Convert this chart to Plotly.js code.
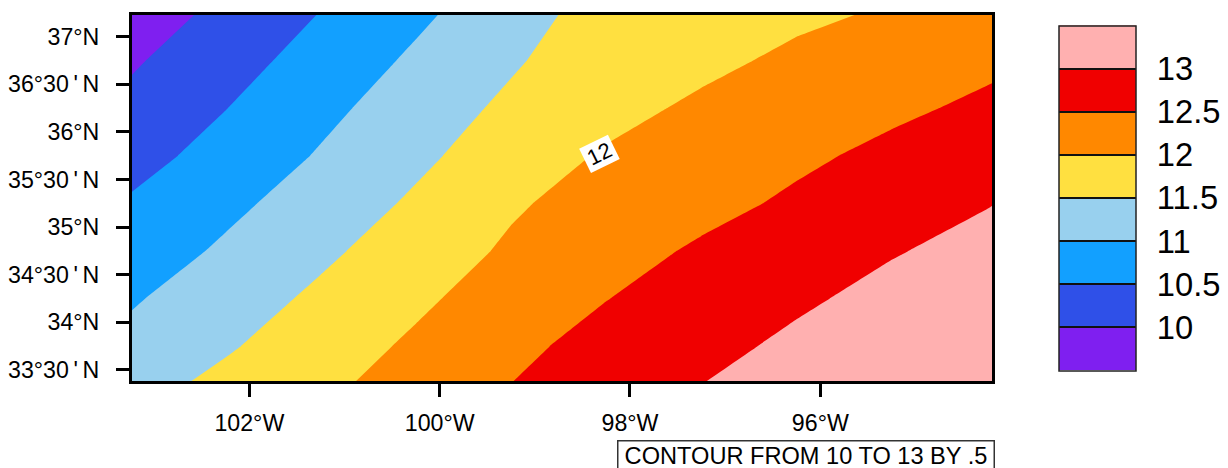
<!DOCTYPE html>
<html><head><meta charset="utf-8">
<script src="https://cdn.plot.ly/plotly-3.0.1.min.js"></script>
<style>html,body{margin:0;padding:0;background:#fff;overflow:hidden}</style>
</head><body><div id="chart" style="width:1228px;height:468px"></div>
<script>
const lons = [-103.25,-102.25,-101.25,-100.25,-99.25,-98.25,-97.25,-96.25,-95.25,-94.25,-94.0];
const lats = [33.25,33.75,34.25,34.75,35.25,35.75,36.25,36.75,37.25];
const z3325 = [11.37,11.66,11.93,12.23,12.53,12.78,13.03,13.24,13.44,13.64,13.69];
const z3375 = [11.13,11.45,11.76,12.08,12.39,12.66,12.87,13.09,13.30,13.50,13.55];
const z3425 = [10.95,11.27,11.59,11.91,12.24,12.49,12.71,12.93,13.13,13.33,13.38];
const z3475 = [10.74,11.07,11.41,11.74,12.07,12.33,12.56,12.77,12.97,13.14,13.19];
const z3525 = [10.55,10.89,11.22,11.57,11.94,12.20,12.37,12.57,12.78,12.98,13.03];
const z3575 = [10.32,10.68,11.04,11.40,11.75,12.05,12.25,12.42,12.60,12.75,12.79];
const z3625 = [10.12,10.49,10.88,11.24,11.60,11.84,12.09,12.26,12.42,12.58,12.62];
const z3675 = [9.94,10.31,10.69,11.08,11.44,11.80,11.88,12.10,12.26,12.41,12.45];
const z3725 = [9.73,10.12,10.51,10.90,11.30,11.69,11.80,11.90,12.05,12.20,12.24];
const bandColors = ['#7f1ff0','#2f50e8','#12a0ff','#98d0ee','#ffe040','#ff8800','#f00000','#ffb0b0'];
const levels = [10,10.5,11,11.5,12,12.5,13];
const levelLabels = ['10','10.5','11','11.5','12','12.5','13'];
const lonTicks = [-102,-100,-98,-96];
const lonLabels = ['102°W','100°W','98°W','96°W'];
const latTicks = [33.5,34,34.5,35,35.5,36,36.5,37];
const latLabels = ["33°30\u2009'\u2009N",'34°N',"34°30\u2009'\u2009N",'35°N',"35°30\u2009'\u2009N",'36°N',"36°30\u2009'\u2009N",'37°N'];

const n = bandColors.length;
const colorscale = [];
bandColors.forEach((c,i)=>{colorscale.push([i/n,c]);colorscale.push([(i+1)/n,c]);});
const font = 'Liberation Sans, Arial, sans-serif';

const trace = {
  type:'contour', x:lons, y:lats,
  z:[z3325,z3375,z3425,z3475,z3525,z3575,z3625,z3675,z3725],
  zauto:false, zmin:9.5, zmax:13.5, colorscale,
  autocontour:false,
  contours:{start:10,end:13,size:0.5,coloring:'fill',showlines:false},
  line:{width:0,smoothing:0},
  hoverinfo:'skip',
  colorbar:{
    x:(1058.5-132)/860, xanchor:'left', xpad:0, y:0.5, yanchor:'middle', ypad:0,
    len:345/366, lenmode:'fraction', thickness:77, thicknessmode:'pixels',
    outlinecolor:'#222', outlinewidth:1.5, bgcolor:'rgba(0,0,0,0)',borderwidth:0,
    tickmode:'array', tickvals:levels, ticktext:levelLabels.map(s=>'\u2009\u2009'+s),
    ticks:'inside', ticklen:77, tickwidth:1.5, tickcolor:'#111',
    tickfont:{family:font,size:32.7,color:'#000'}
  }
};
const layout = {
  width:1228, height:468,
  margin:{l:132,r:236,t:15,b:87,pad:0,autoexpand:false},
  paper_bgcolor:'#fff', plot_bgcolor:'#fff',
  font:{family:font,color:'#000'},
  xaxis:{range:[-103.233,-94.196],tickmode:'array',tickvals:lonTicks,ticktext:lonLabels,
    ticks:'outside',ticklen:13,tickwidth:2.5,tickcolor:'#000',showgrid:false,zeroline:false,ticklabelstandoff:6,
    showline:true,linecolor:'#000',linewidth:3,mirror:true,tickfont:{family:font,size:23.2,color:'#000'}},
  yaxis:{range:[33.384,37.228],tickmode:'array',tickvals:latTicks,ticktext:latLabels,
    ticks:'outside',ticklen:13,tickwidth:2.5,tickcolor:'#000',showgrid:false,zeroline:false,ticklabelstandoff:12,
    showline:true,linecolor:'#000',linewidth:3,mirror:true,tickfont:{family:font,size:23.2,color:'#000'}},
  annotations:[
    {x:-98.325,y:35.768,xref:'x',yref:'y',text:'12',showarrow:false,textangle:-26,
     bgcolor:'#fff',borderpad:1,width:29,height:24,font:{family:font,size:22,color:'#000'}},
    {x:1.003,y:-0.161,xref:'paper',yref:'paper',xanchor:'right',yanchor:'top',showarrow:false,
     text:'CONTOUR FROM 10 TO 13 BY .5',font:{family:font,size:23.6,color:'#000'},
     bordercolor:'#333',borderwidth:1.5,borderpad:1,width:373,height:26,align:'center'}
  ]
};
Plotly.newPlot('chart',[trace],layout,{displayModeBar:false,responsive:false});
</script></body></html>
